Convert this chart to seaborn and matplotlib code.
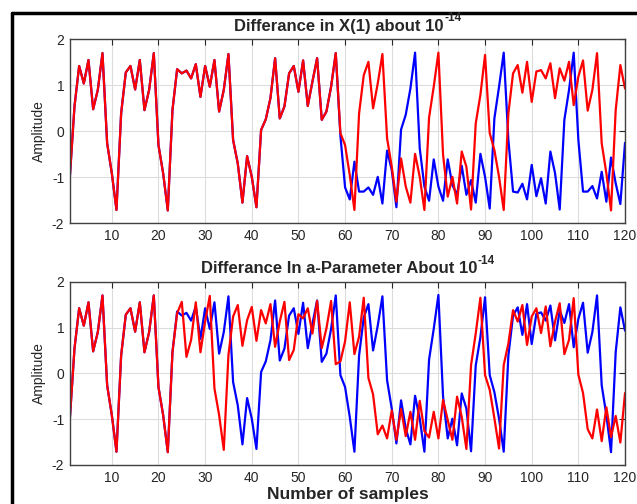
import matplotlib
matplotlib.use("Agg")
import matplotlib.pyplot as plt
import numpy as np
import pandas as pd
import seaborn as sns
from matplotlib.lines import Line2D

samples = list(range(1, 121))

# nominal trajectory (red on top panel, blue on bottom panel)
x1_nominal = [
    -1.00, 0.54, 1.42, 1.04, 1.55, 0.48, 0.90, 1.70, -0.26, -0.91,
    -1.71, 0.39, 1.28, 1.42, 0.91, 1.55, 0.46, 0.90, 1.70, -0.30,
    -0.91, -1.72, 0.46, 1.35, 1.26, 1.32, 1.15, 1.46, 0.75, 1.42,
    0.97, 1.55, 0.43, 0.90, 1.68, -0.19, -0.70, -1.55, -0.54, -0.99,
    -1.65, 0.03, 0.26, 0.72, 1.59, 0.28, 0.54, 1.26, 1.42, 0.86,
    1.54, 0.55, 1.08, 1.59, 0.25, 0.43, 0.97, 1.70, -0.04, -0.30,
    -0.95, -1.71, 0.39, 1.22, 1.51, 0.50, 1.04, 1.68, -0.15, -0.77,
    -1.53, -0.59, -1.20, -1.55, -0.49, -0.99, -1.71, 0.30, 0.97, 1.71,
    -0.51, -1.42, -0.99, -1.57, -0.44, -0.77, -1.70, 0.17, 0.79, 1.66,
    -0.04, -0.41, -0.99, -1.71, 0.39, 1.26, 1.44, 0.84, 1.51, 0.64,
    1.30, 1.33, 1.15, 1.48, 0.72, 1.37, 1.10, 1.51, 0.57, 1.19,
    1.54, 0.45, 0.90, 1.70, -0.26, -0.91, -1.72, 0.46, 1.44, 0.93,
]

# X(1) perturbed by 1e-14 (blue, top panel)
x1_perturbed = x1_nominal[:58] + [
    -0.10, -1.22, -1.48, -0.66, -1.31, -1.31, -1.22, -1.38, -0.99, -1.57,
    -0.42, -0.84, -1.65, 0.04, 0.36, 0.93, 1.71, -0.37, -1.20, -1.51,
    -0.61, -1.20, -1.51, -0.61, -1.17, -1.38, -0.75, -1.38, -1.06, -1.55,
    -0.49, -0.99, -1.68, 0.28, 0.97, 1.71, -0.19, -1.31, -1.33, -1.14,
    -1.48, -0.73, -1.41, -1.02, -1.57, -0.44, -0.91, -1.70, 0.25, 0.90,
    1.71, -0.19, -1.31, -1.31, -1.19, -1.46, -0.88, -1.53, -0.57, -1.13,
    -1.58, -0.25,
]

# a-parameter perturbed by 1e-14 (red, bottom panel)
a_perturbed = x1_nominal[:23] + [
    1.31, 1.56, 0.36, 0.73, 1.55, 0.46, 1.13, 1.69, -0.33, -0.91,
    -1.67, 0.40, 1.24, 1.49, 0.60, 1.16, 1.45, 0.71, 1.38, 1.09,
    1.51, 0.58, 1.13, 1.56, 0.29, 0.51, 1.29, 1.20, 1.42, 0.87,
    1.58, 0.55, 0.98, 1.58, 0.20, 0.26, 0.70, 1.55, 0.42, 0.80,
    1.65, -0.10, -0.46, -1.33, -1.14, -1.42, -0.81, -1.45, -0.78, -1.37,
    -0.84, -1.45, -0.60, -1.26, -1.40, -0.84, -1.42, -0.58, -1.02, -1.45,
    -0.51, -0.95, -1.65, 0.18, 0.87, 1.65, -0.04, -0.36, -0.98, -1.64,
    0.18, 0.65, 1.38, 1.13, 1.49, 0.62, 1.24, 1.42, 0.88, 1.46,
    0.59, 1.13, 1.53, 0.42, 0.73, 1.64, -0.03, -0.43, -1.22, -1.42,
    -0.79, -1.48, -0.74, -1.39, -0.93, -1.51, -0.43,
]

x_ticks = list(range(10, 121, 10))
y_ticks = [-2, -1, 0, 1, 2]

panels = [
    ("Differance in X(1) about 10", x1_perturbed, x1_nominal),
    ("Differance In a-Parameter About 10", x1_nominal, a_perturbed),
]
title_exponent = "-14"

sns.set_theme(style="white")
plt.rcParams["font.family"] = ["Liberation Sans", "DejaVu Sans"]
plt.rcParams["axes.unicode_minus"] = False

fig = plt.figure(figsize=(6.37, 5.04), dpi=100)
ax_top = fig.add_axes([0.1096, 0.5569, 0.8716, 0.3651])
ax_bot = fig.add_axes([0.1096, 0.0774, 0.8716, 0.3637])

titles = []
for ax, (title, blue_vals, red_vals) in zip([ax_top, ax_bot], panels):
    df = pd.DataFrame({"n": samples, "blue": blue_vals, "red": red_vals})
    sns.lineplot(data=df, x="n", y="blue", color="#0000ff", linewidth=1.6, ax=ax)
    sns.lineplot(data=df, x="n", y="red", color="#ff0000", linewidth=1.6, ax=ax)
    ax.set_xlim(1, 120)
    ax.set_ylim(-2, 2)
    ax.set_xticks(x_ticks)
    ax.set_yticks(y_ticks)
    ax.grid(True, color="#dcdcdc", linewidth=0.8)
    ax.set_axisbelow(True)
    ax.tick_params(direction="in", length=4, width=0.8, top=True, right=True,
                   labelsize=10, colors="#262626", pad=4)
    for sp in ax.spines.values():
        sp.set_color("#404040")
        sp.set_linewidth(1.0)
    ax.set_ylabel("Amplitude", fontsize=10, labelpad=4)
    ax.set_xlabel("")
    # title base text shifted left a bit so base + exponent stay centred
    t = ax.text(0.485, 1.03, title, transform=ax.transAxes, ha="center", va="bottom",
                fontsize=12, fontweight="bold")
    titles.append(t)

ax_bot.set_xlabel("Number of samples", fontsize=12.5, fontweight="bold", labelpad=2)

# superscript exponent with a plain hyphen, placed after each title
fig.canvas.draw()
renderer = fig.canvas.get_renderer()
for t in titles:
    bb = t.get_window_extent(renderer=renderer)
    fig.text(bb.x1 / fig.bbox.width + 0.001, (bb.y0 + 0.62 * bb.height) / fig.bbox.height,
             title_exponent, fontsize=8.5, fontweight="bold", ha="left", va="bottom")

# screenshot frame on left and top
fig.add_artist(Line2D([12 / 637, 12 / 637], [0, 1 - 13 / 504], transform=fig.transFigure,
                      color="black", linewidth=2.5))
fig.add_artist(Line2D([12 / 637, 1], [1 - 13 / 504, 1 - 13 / 504], transform=fig.transFigure,
                      color="black", linewidth=2.5))

fig.savefig("out.png", dpi=100)
plt.close(fig)
